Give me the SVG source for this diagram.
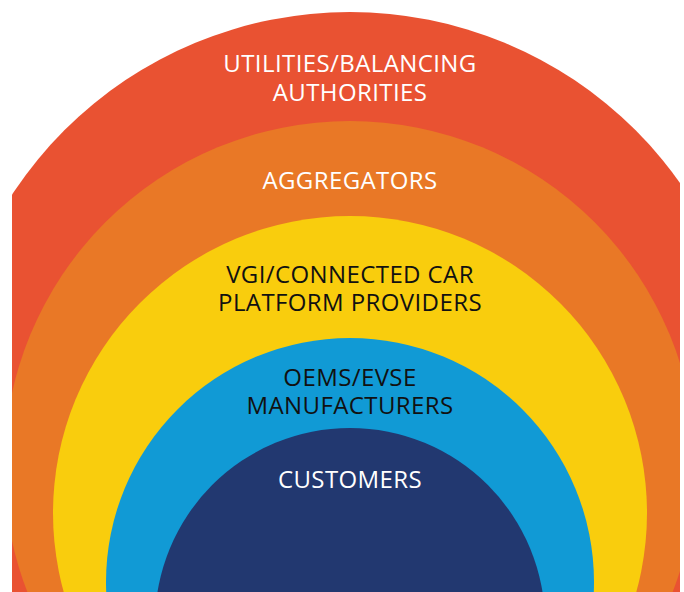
<svg xmlns="http://www.w3.org/2000/svg" width="684" height="592" viewBox="0 0 684 592">
  <defs>
    <clipPath id="frame">
      <rect x="12" y="0" width="668" height="592"/>
    </clipPath>
    <style>
      .lbl { font-family: "Open Sans", "Noto Sans", "Liberation Sans", sans-serif; font-size: 24px; letter-spacing: 0.4px; fill: #ffffff; text-anchor: middle; }
      .dark { fill: #111111; }
    </style>
  </defs>
  <rect width="684" height="592" fill="#ffffff"/>
  <g clip-path="url(#frame)">
    <g id="utilities">
      <circle cx="350" cy="416" r="404" fill="#E95232"/>
      <text class="lbl" x="350" y="72">UTILITIES/BALANCING</text>
      <text class="lbl" x="350" y="101">AUTHORITIES</text>
    </g>
    <g id="aggregators">
      <circle cx="350" cy="467" r="346" fill="#E97826"/>
      <text class="lbl" x="350" y="189">AGGREGATORS</text>
    </g>
    <g id="vgi">
      <circle cx="350" cy="513" r="297" fill="#F9CD0D"/>
      <text class="lbl dark" x="350" y="283">VGI/CONNECTED CAR</text>
      <text class="lbl dark" x="350" y="311">PLATFORM PROVIDERS</text>
    </g>
    <g id="oems">
      <circle cx="350" cy="582" r="244" fill="#119AD5"/>
      <text class="lbl dark" x="350" y="386">OEMS/EVSE</text>
      <text class="lbl dark" x="350" y="414">MANUFACTURERS</text>
    </g>
    <g id="customers">
      <circle cx="350" cy="623" r="195" fill="#223870"/>
      <text class="lbl" x="350" y="488">CUSTOMERS</text>
    </g>
  </g>
  <g id="connectors"/>
</svg>
